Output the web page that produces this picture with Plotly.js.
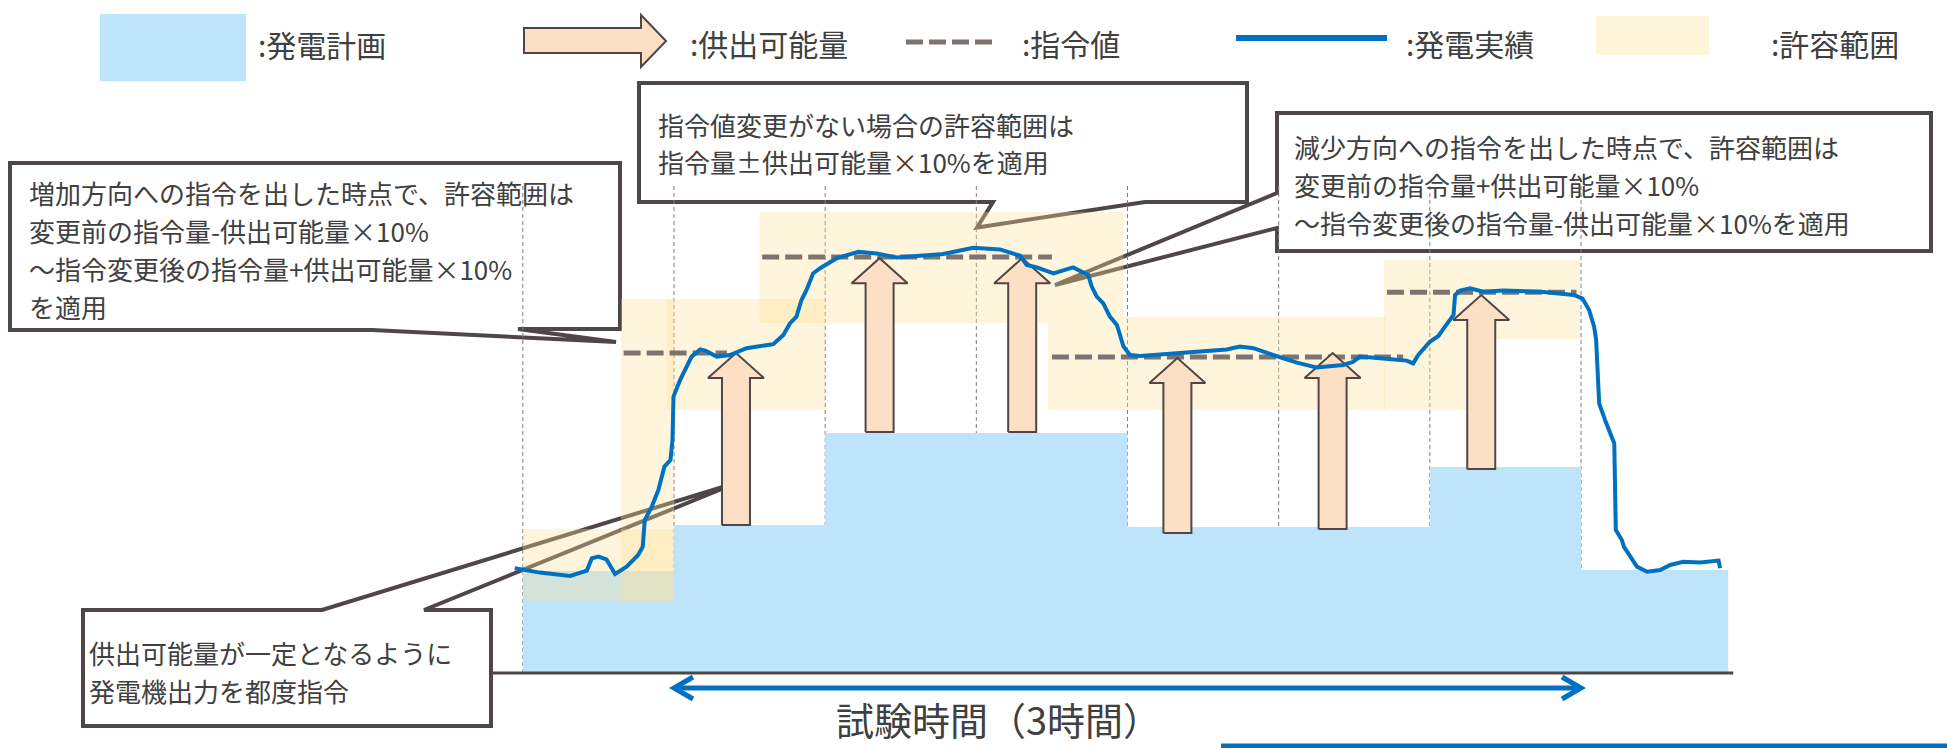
<!DOCTYPE html>
<html lang="ja">
<head>
<meta charset="utf-8">
<script src="https://cdn.plot.ly/plotly-3.0.1.min.js"></script>
<style>
  html, body { margin: 0; padding: 0; background: #fff; }
  #chart { width: 1947px; height: 748px; }
</style>
</head>
<body>
<div id="chart"></div>
<script>
// x: minutes from test start, y: output (arbitrary units)
const slotLines = [-30, 0, 30, 60, 90, 120, 150, 180];

// 発電計画 (step)
const planStart = [-30, 0, 30, 90, 150, 180];
const planLevel = [25.5, 37, 60, 36.5, 51.5, 25.75];
const planEnd = 209.2;

// 指令値
const cmdStart = [-10, 17.5, 75, 141.5];
const cmdEnd = [10.5, 75, 144.7, 179.1];
const cmdLevel = [80, 104, 79, 95.2];

// 許容範囲
const bandStart = [-30, -10.5, -1.5, 17, 74.2, 89.2, 140.9, 159.4];
const bandEnd = [0, 0, 30, 74.2, 89.2, 141.3, 159.4, 179.8];
const bandLow = [18, 18, 65.75, 87.5, 65.75, 65.75, 65.75, 83.5];
const bandHigh = [36, 93.5, 93.5, 115.25, 115.25, 89, 103.25, 103.25];

// 供出可能量 arrows
const arrowX = [12.3, 40.8, 69.1, 99.9, 130.7, 160.2];
const arrowFrom = [37, 60.25, 60.25, 35, 36, 51];
const arrowTo = [80, 103.7, 103.7, 78.75, 80, 94.5];

// 発電実績
const actualT = [-31.6, -26.6, -20.6, -17.3, -16.3, -15.0, -13.4, -12.5, -11.7, -9.4,
  -7.1, -6.2, -5.8, -4.4, -3.1, -1.9, -0.7, -0.3, -0.1, 1.2,
  2.2, 3.5, 5.2, 6.2, 8.5, 11.1, 14.4, 19.7, 21.7, 23.0,
  24.3, 25.3, 26.3, 27.6, 29.0, 32.3, 36.6, 40.2, 44.2, 53.4,
  59.4, 64.7, 68.7, 70.0, 72.0, 75.3, 79.2, 82.2, 82.9, 83.9,
  85.2, 86.5, 87.9, 89.2, 90.5, 92.5, 101.7, 109.7, 112.3, 115.0,
  118.9, 123.6, 127.5, 132.8, 134.8, 136.1, 140.1, 145.4, 146.7, 147.7,
  150.0, 151.7, 153.0, 154.7, 155.0, 156.0, 158.0, 160.6, 164.6, 172.0,
  178.6, 180.3, 181.6, 182.6, 183.0, 183.6, 184.9, 186.6, 186.9, 188.1,
  188.5, 191.1, 193.1, 195.7, 197.7, 200.3, 203.6, 207.3, 207.6];
const actualP = [26.2, 25.1, 24.25, 25.6, 28.7, 29.1, 28.4, 26.2, 24.75, 26.6,
  29.5, 31.6, 38.25, 41.6, 45.75, 51.6, 53.25, 58.25, 69.1, 73.25,
  75.75, 79.1, 80.9, 80.6, 79.1, 79.5, 81.2, 82.2, 84.5, 87.4,
  89.1, 93.25, 95.75, 99.9, 101.2, 103.7, 105.3, 104.9, 103.9, 104.75,
  106.3, 105.9, 104.3, 102, 101.4, 99.9, 101.4, 99.5, 96.6, 94.1,
  92.4, 89.1, 87, 81.6, 79.5, 79.25, 80.1, 80.9, 81.6, 81.2,
  79.5, 77.6, 76.4, 77, 77.8, 79.1, 78.7, 78.1, 77.4, 79.5,
  82.8, 84.25, 86.6, 89.5, 94.5, 95.6, 96.2, 95.3, 95.6, 95.3,
  94.5, 93.6, 90.75, 86.6, 83.25, 67.4, 62.8, 57.4, 35.75, 33.25,
  31.6, 26.6, 25.3, 25.75, 27, 27.8, 27.6, 28.1, 26.2];

// 試験時間（3時間）
const testStart = 0;
const testEnd = 180;
const testLevel = -3.75;

// callout texts
const noteUp = ["増加方向への指令を出した時点で、許容範囲は", "変更前の指令量-供出可能量×10%",
  "～指令変更後の指令量+供出可能量×10%", "を適用"];
const noteKeep = ["指令値変更がない場合の許容範囲は", "指令量±供出可能量×10%を適用"];
const noteDown = ["減少方向への指令を出した時点で、許容範囲は", "変更前の指令量+供出可能量×10%",
  "～指令変更後の指令量-供出可能量×10%を適用"];
const noteEach = ["供出可能量が一定となるように", "発電機出力を都度指令"];

// layout helpers (page is 1947x748 px)
const W = 1947, H = 748;
const PX_PER_MIN = 151.17 / 30;
const PX_PER_UNIT = 4;
const px = (x) => x / W;
const py = (y) => 1 - y / H;
const pathPx = (pts) => "M" + pts.map((p) => `${px(p[0])},${py(p[1])}`).join("L") + "Z";

const INK = "#4F4747";
const TEXT = "#404040";
const FONT = "Noto Sans CJK JP";
const PLAN_BLUE = "#BEE4FC";
const BAND = "rgba(255,224,150,0.33)";
const PEACH = "#FDDFC6";
const CMD = "#7F7370";
const ACT = "#0070C0";

const traces = [];

slotLines.forEach((x) => {
  traces.push({
    x: [x, x], y: [0, 121.75], mode: "lines",
    line: { color: "#7f7f7f", width: 1, dash: "4px,3px" },
  });
});

traces.push({
  x: [...planStart, planEnd],
  y: [...planLevel, planLevel[planLevel.length - 1]],
  mode: "lines", line: { width: 0, shape: "hv" },
  fill: "tozeroy", fillcolor: PLAN_BLUE,
});

bandStart.forEach((x0, i) => {
  const x1 = bandEnd[i];
  traces.push({
    x: [x0, x1, x1, x0, x0],
    y: [bandLow[i], bandLow[i], bandHigh[i], bandHigh[i], bandLow[i]],
    mode: "lines", line: { width: 0 }, fill: "toself", fillcolor: BAND,
  });
});

traces.push({
  x: [-36.3, 210.2], y: [0, 0], mode: "lines",
  line: { color: INK, width: 3 },
});

cmdStart.forEach((x0, i) => {
  traces.push({
    x: [x0, cmdEnd[i]], y: [cmdLevel[i], cmdLevel[i]], mode: "lines",
    line: { color: CMD, width: 5, dash: "17px,6px" },
  });
});

const SHAFT = 14 / PX_PER_MIN;
const HEAD = 28 / PX_PER_MIN;
const HEADLEN = 25 / PX_PER_UNIT;
arrowX.forEach((x, i) => {
  const y0 = arrowFrom[i], y1 = arrowTo[i], yh = y1 - HEADLEN;
  traces.push({
    x: [x - SHAFT, x + SHAFT, x + SHAFT, x + HEAD, x, x - HEAD, x - SHAFT, x - SHAFT],
    y: [y0, y0, yh, yh, y1, yh, yh, y0],
    mode: "lines", fill: "toself", fillcolor: PEACH,
    line: { color: INK, width: 2 },
  });
});

traces.push({
  x: actualT, y: actualP, mode: "lines",
  line: { color: ACT, width: 4 },
});

// test period double arrow
const CHEV_X = 19 / PX_PER_MIN;
const CHEV_Y = 11 / PX_PER_UNIT;
traces.push({
  x: [testStart, testEnd], y: [testLevel, testLevel], mode: "lines",
  line: { color: ACT, width: 5 },
});
[[testStart, 1], [testEnd, -1]].forEach(([x, dir]) => {
  traces.push({
    x: [x + dir * CHEV_X, x, x + dir * CHEV_X],
    y: [testLevel + CHEV_Y, testLevel, testLevel - CHEV_Y],
    mode: "lines", line: { color: ACT, width: 5 },
  });
});

const callout = (pts) => ({
  type: "path", xref: "paper", yref: "paper", layer: "below",
  path: pathPx(pts), line: { color: INK, width: 4 }, fillcolor: "rgba(0,0,0,0)",
});

const shapes = [
  callout([[10, 163], [620, 163], [620, 329], [518, 329], [616, 342], [372, 330], [10, 330]]),
  callout([[639, 83], [1247, 83], [1247, 202], [1145, 202], [977, 227.5], [993, 202], [639, 202]]),
  callout([[1277, 113], [1931, 113], [1931, 251], [1277, 251], [1277, 228], [1055, 285], [1277, 193]]),
  callout([[83, 610], [322, 610], [739, 482], [424, 610], [491, 610], [491, 726], [83, 726]]),
  // legend glyphs
  { type: "rect", xref: "paper", yref: "paper", x0: px(100), x1: px(246), y0: py(14), y1: py(81),
    fillcolor: PLAN_BLUE, line: { width: 0 } },
  { type: "path", xref: "paper", yref: "paper",
    path: pathPx([[524, 28], [641, 28], [641, 15], [666, 41], [641, 67], [641, 53], [524, 53]]),
    fillcolor: PEACH, line: { color: INK, width: 2 } },
  { type: "line", xref: "paper", yref: "paper", x0: px(906), x1: px(998), y0: py(42), y1: py(42),
    line: { color: CMD, width: 5, dash: "17px,6px" } },
  { type: "line", xref: "paper", yref: "paper", x0: px(1236), x1: px(1387), y0: py(38), y1: py(38),
    line: { color: ACT, width: 6 } },
  { type: "rect", xref: "paper", yref: "paper", x0: px(1596), x1: px(1709), y0: py(16), y1: py(55),
    fillcolor: "#FFF5DA", line: { width: 0 } },
  // blue rule at the bottom right
  { type: "line", xref: "paper", yref: "paper", x0: px(1221), x1: px(1947), y0: py(746), y1: py(746),
    line: { color: ACT, width: 5 } },
];

const label = (text, x, y, size, extra) => Object.assign({
  text, xref: "paper", yref: "paper", x: px(x), y: py(y),
  xanchor: "left", yanchor: "middle", align: "left", showarrow: false,
  font: { family: FONT, size, color: TEXT }, borderpad: 0,
}, extra || {});

const annotations = [
  label(":発電計画", 257, 44, 30),
  label(":供出可能量", 689, 43, 30),
  label(":指令値", 1021, 43, 30),
  label(":発電実績", 1405, 43, 30),
  label(":許容範囲", 1770, 43, 30),
  label("試験時間（3時間）", 998, 718, 38, { xanchor: "center" }),
];
const LINE_GAP = 38;
const block = (lines, x, yFirst) => lines.forEach((t, i) => {
  annotations.push(label(t, x, yFirst + i * LINE_GAP, 26));
});
block(noteUp, 28, 192);
block(noteKeep, 657, 124);
block(noteDown, 1293, 146);
block(noteEach, 88, 652);

traces.forEach((t) => { t.hoverinfo = "skip"; t.showlegend = false; });

Plotly.newPlot("chart", traces, {
  width: W, height: H,
  margin: { l: 0, r: 0, t: 0, b: 0 },
  paper_bgcolor: "#ffffff",
  plot_bgcolor: "rgba(0,0,0,0)",
  xaxis: { range: [-674 / PX_PER_MIN, (W - 674) / PX_PER_MIN], visible: false, fixedrange: true },
  yaxis: { range: [(673 - H) / PX_PER_UNIT, 673 / PX_PER_UNIT], visible: false, fixedrange: true },
  showlegend: false,
  hovermode: false,
  shapes, annotations,
}, { displayModeBar: false, staticPlot: true });
</script>
</body>
</html>
